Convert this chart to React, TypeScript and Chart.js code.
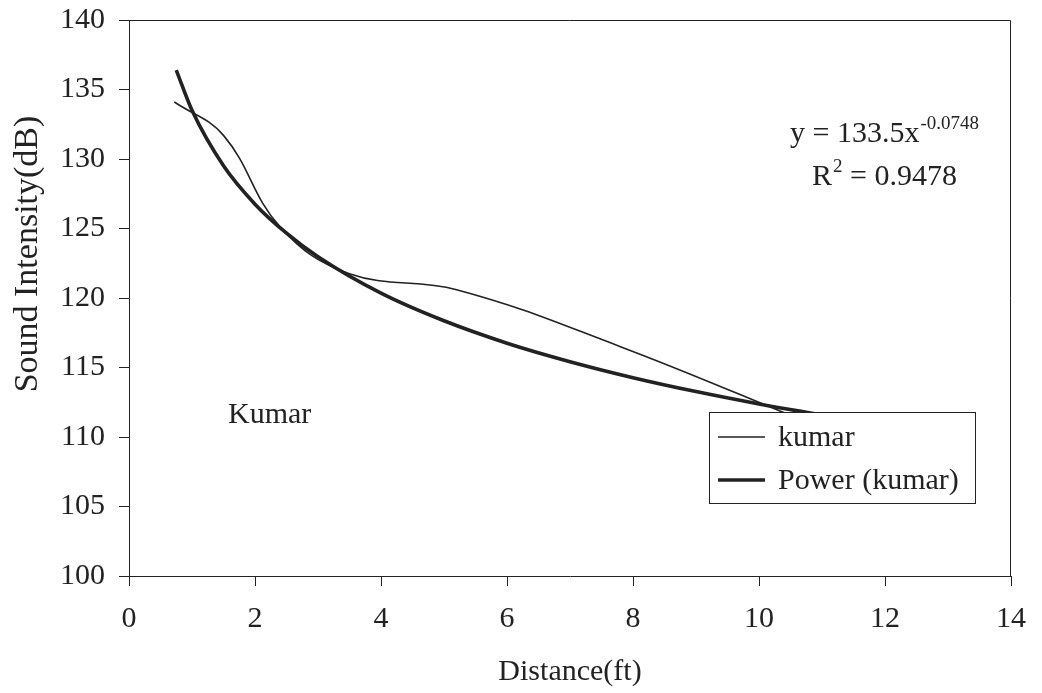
import React, { useEffect, useRef } from 'react';
import { Chart, registerables } from 'chart.js';

Chart.register(...registerables);

// ---- data ----
const kumarX = [0.72, 1.5, 2.4, 3.5, 5.2, 7.8, 10.8];
const kumarY = [134.1, 131.7, 125.1, 121.75, 120.6, 116.5, 111.0];

const powerX = [0.75, 1, 1.5, 2, 2.5, 3, 4, 5, 6, 7, 8, 9, 10, 11];
const powerY = [136.4, 133.5, 129.51, 126.75, 124.66, 122.97, 120.35, 118.36, 116.75, 115.42, 114.27, 113.27, 112.38, 111.58];

const xTickValues = [0, 2, 4, 6, 8, 10, 12, 14];
const yTickValues = [100, 105, 110, 115, 120, 125, 130, 135, 140];

const seriesLabels = ['kumar', 'Power (kumar)'];
const equationMain = 'y = 133.5x';
const equationExp = '-0.0748';
const rSquaredValue = ' = 0.9478';
const annotationLabel = 'Kumar';
const xTitle = 'Distance(ft)';
const yTitle = 'Sound Intensity(dB)';

const FONT = "'Liberation Serif', 'Times New Roman', serif";
const INK = '#222';

const decorPlugin = {
  id: 'decor',
  afterDatasetsDraw(chart: any) {
    const { ctx, chartArea: a } = chart;
    ctx.save();
    // frame (top & right)
    ctx.strokeStyle = INK;
    ctx.lineWidth = 1;
    ctx.beginPath();
    ctx.moveTo(a.left, a.top + 0.5);
    ctx.lineTo(a.right - 0.5, a.top + 0.5);
    ctx.lineTo(a.right - 0.5, a.bottom);
    ctx.stroke();

    ctx.fillStyle = INK;
    ctx.textBaseline = 'alphabetic';

    // y axis title (rotated)
    ctx.save();
    ctx.translate(37, a.top + 234);
    ctx.rotate(-Math.PI / 2);
    ctx.font = `34px ${FONT}`;
    ctx.textAlign = 'center';
    ctx.fillText(yTitle, 0, 0);
    ctx.restore();

    // equation, centered
    const cx = a.right - 127;
    ctx.font = `30px ${FONT}`;
    const w1 = ctx.measureText(equationMain).width;
    ctx.font = `19px ${FONT}`;
    const w2 = ctx.measureText(equationExp).width;
    let x0 = cx - (w1 + w2) / 2;
    const yEq = a.top + 122;
    ctx.font = `30px ${FONT}`;
    ctx.textAlign = 'left';
    ctx.fillText(equationMain, x0, yEq);
    ctx.font = `19px ${FONT}`;
    ctx.fillText(equationExp, x0 + w1 + 1, yEq - 13);

    // R^2
    ctx.font = `30px ${FONT}`;
    const wR = ctx.measureText('R').width;
    const wV = ctx.measureText(rSquaredValue).width;
    ctx.font = `19px ${FONT}`;
    const w2s = ctx.measureText('2').width;
    x0 = cx - (wR + w2s + wV) / 2;
    const yR = a.top + 165;
    ctx.font = `30px ${FONT}`;
    ctx.fillText('R', x0, yR);
    ctx.font = `19px ${FONT}`;
    ctx.fillText('2', x0 + wR + 1, yR - 13);
    ctx.font = `30px ${FONT}`;
    ctx.fillText(rSquaredValue, x0 + wR + w2s + 1, yR);

    // Kumar label
    ctx.fillText(annotationLabel, a.left + 99, a.top + 403);

    // legend box
    const lx = a.left + 580;
    const ly = a.top + 392;
    const lw = 266;
    const lh = 91;
    ctx.fillStyle = '#ffffff';
    ctx.fillRect(lx, ly, lw, lh);
    ctx.strokeStyle = INK;
    ctx.lineWidth = 1;
    ctx.strokeRect(lx + 0.5, ly + 0.5, lw, lh);
    const ds = chart.data.datasets;
    const rows = [ly + 25, ly + 68];
    ds.forEach((d: any, i: number) => {
      ctx.strokeStyle = INK;
      ctx.lineWidth = d.borderWidth;
      ctx.beginPath();
      ctx.moveTo(lx + 9, rows[i]);
      ctx.lineTo(lx + 56, rows[i]);
      ctx.stroke();
      ctx.fillStyle = INK;
      ctx.font = `30px ${FONT}`;
      ctx.textBaseline = 'middle';
      ctx.fillText(d.label, lx + 69, rows[i] + 1);
    });
    ctx.restore();
  },
};

export default function App() {
  const ref = useRef<HTMLCanvasElement>(null);

  useEffect(() => {
    if (!ref.current) return;
    const chart = new Chart(ref.current, {
      type: 'scatter',
      data: {
        datasets: [
          {
            label: seriesLabels[0],
            data: kumarX.map((x, i) => ({ x, y: kumarY[i] })),
            showLine: true,
            borderColor: INK,
            borderWidth: 1.6,
            pointRadius: 0,
            tension: 0.4,
            fill: false,
          },
          {
            label: seriesLabels[1],
            data: powerX.map((x, i) => ({ x, y: powerY[i] })),
            showLine: true,
            borderColor: INK,
            borderWidth: 3.6,
            pointRadius: 0,
            cubicInterpolationMode: 'monotone',
            fill: false,
          },
        ],
      },
      options: {
        animation: false,
        responsive: true,
        maintainAspectRatio: false,
        layout: { padding: { top: 20, right: 31, bottom: 0, left: 0 } },
        plugins: {
          legend: { display: false },
          tooltip: { enabled: false },
        },
        scales: {
          x: {
            type: 'linear',
            min: 0,
            max: 14,
            afterBuildTicks: (s: any) => {
              s.ticks = xTickValues.map((v) => ({ value: v }));
            },
            afterFit: (s: any) => {
              s.height = 117;
              s.paddingLeft = 0;
              s.paddingRight = 0;
            },
            ticks: {
              color: INK,
              font: { family: FONT, size: 30 },
              padding: 15,
              maxRotation: 0,
            },
            grid: {
              drawOnChartArea: false,
              drawTicks: true,
              tickLength: 10,
              color: INK,
              lineWidth: 1,
            },
            border: { display: true, color: INK, width: 1 },
            title: {
              display: true,
              text: xTitle,
              color: INK,
              font: { family: FONT, size: 30 },
              padding: { top: 0, bottom: 3 },
            },
          },
          y: {
            type: 'linear',
            min: 100,
            max: 140,
            afterBuildTicks: (s: any) => {
              s.ticks = yTickValues.map((v) => ({ value: v }));
            },
            afterFit: (s: any) => {
              s.width = 129;
              s.paddingTop = 0;
              s.paddingBottom = 0;
            },
            ticks: {
              color: INK,
              font: { family: FONT, size: 30 },
              padding: 14,
            },
            grid: {
              drawOnChartArea: false,
              drawTicks: true,
              tickLength: 10,
              color: INK,
              lineWidth: 1,
            },
            border: { display: true, color: INK, width: 1 },
          },
        },
      },
      plugins: [decorPlugin],
    } as any);
    return () => chart.destroy();
  }, []);

  return (
    <div style={{ position: 'fixed', left: 0, top: 0, width: 1042, height: 693, background: '#fff' }}>
      <canvas ref={ref} />
    </div>
  );
}
